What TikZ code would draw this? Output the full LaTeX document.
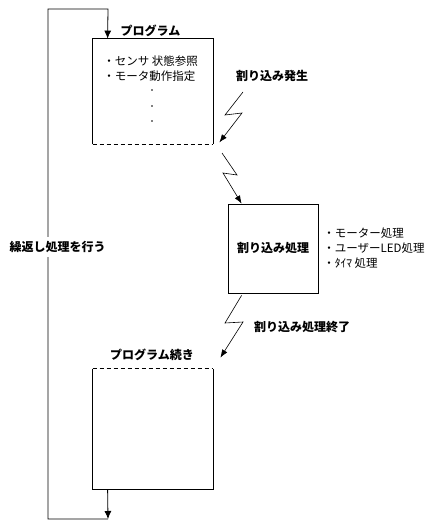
\documentclass[tikz,border=0pt]{standalone}
\usepackage{fontspec}
\setmainfont{Noto Sans CJK JP}
\usepackage{tikz}
\usetikzlibrary{arrows.meta,calc}

\begin{document}
\begin{tikzpicture}[line cap=butt,line join=miter,x=1pt,y=-1pt,line width=0.8pt,
    head/.style={-{Latex[length=8pt,width=7pt]}},
    flash/.style={-{Latex[length=8pt,width=6pt]}, line width=0.6pt},
    cut/.style={dash pattern=on 4pt off 3pt},
    frame/.style={draw=none, inner sep=0, minimum width=#1},
    title/.style={inner sep=0, font=\bfseries\fontsize{12}{14}\selectfont},
    item/.style={inner sep=0, anchor=west, font=\fontsize{11.5}{13}\selectfont}]
      \useasboundingbox (0,0) rectangle (442,530);

      % boxes
      \node[frame=120, minimum height=105] (prog) at (153,91.5) {};
      \node[frame=90, minimum height=89, draw, font=\bfseries\fontsize{12}{14}\selectfont] (isr) at (273,248.5) {割り込み処理};
      \node[frame=120, minimum height=120] (cont) at (153,429) {};

      \draw (prog.south west) -- (prog.north west) -- (prog.north east) -- (prog.south east);
      \draw[cut] (prog.south west) -- (prog.south east);
      \draw (cont.north west) -- (cont.south west) -- (cont.south east) -- (cont.north east);
      \draw[cut] (cont.north west) -- (cont.north east);

      % labels
      \node[title] (progname) at (150.5,31) {プログラム};
      \node[title] (contname) at (152,355) {プログラム続き};
      \node[item] (sensor) at (103,61) {・センサ 状態参照};
      \node[item] (motor) at (103,76) {・モータ動作指定};
      \foreach \y in {90,106,121}
        \fill (152,\y) circle (0.8pt);

      \node[item] (side1) at (323,233) {・モーター処理};
      \node[item] (side2) at (323,248) {・ユーザーLED処理};
      \node[item] (side3) at (323,263) {・ﾀｲﾏ 処理};

      % loop
      \coordinate (top) at ($(prog.north west)+(15,0)$);
      \coordinate (bot) at ($(cont.south west)+(15,0)$);
      \coordinate (corner) at (108,519);
      \draw[head] (bot) -- (corner);
      \draw[head] (corner) -- (48,519) -- (48,9) -- (108,9) -- (top);
      \node[title, fill=white, inner ysep=4pt] (loop) at (57.5,247) {繰返し処理を行う};

      % interrupt
      \node[title] (irq) at (272,76) {割り込み発生};
      \coordinate (f1) at (243,92);
      \coordinate (f1tip) at ($(prog.south east)+(6,-2)$);
      \draw[flash] (f1) -- (225,115) -- (242,113) -- (f1tip);

      \coordinate (f2) at (222,153);
      \coordinate (f2tip) at ($(isr.north west)+(14,0)$);
      \draw[flash] (f2) -- (237,175) -- (223,173) -- (f2tip);

      % return
      \node[title] (ret) at (302,327) {割り込み処理終了};
      \coordinate (f3) at ($(isr.south west)+(14,2)$);
      \coordinate (f3tip) at ($(cont.north east)+(7,-11)$);
      \draw[flash] (f3) -- (225,323) -- (243,322) -- (f3tip);

\end{tikzpicture}
\end{document}
